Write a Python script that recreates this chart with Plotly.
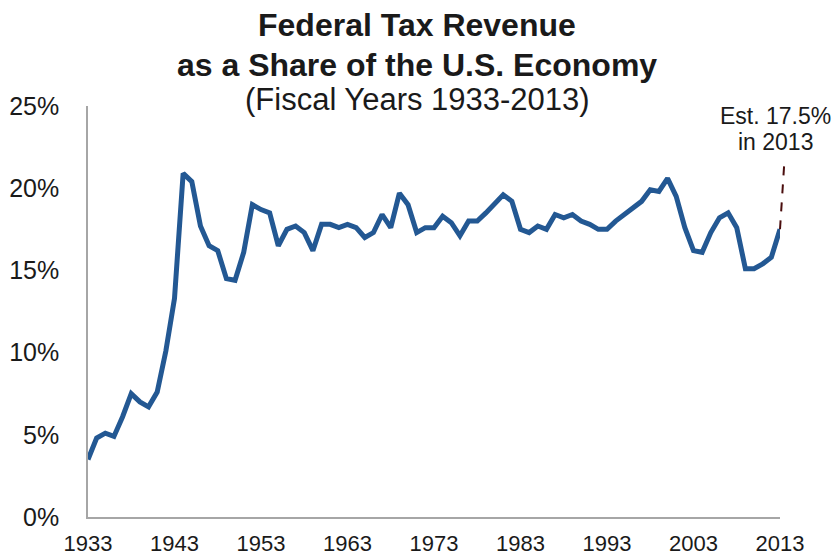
import plotly.graph_objects as go

years = list(range(1933, 2014))
revenue_pct = [
    3.5, 4.8, 5.1, 4.9, 6.1, 7.5, 7.0, 6.7, 7.6, 10.1,      # 1933-1942
    13.3, 20.9, 20.4, 17.7, 16.5, 16.2, 14.5, 14.4, 16.1, 19.0,  # 1943-1952
    18.7, 18.5, 16.5, 17.5, 17.7, 17.3, 16.2, 17.8, 17.8, 17.6,  # 1953-1962
    17.8, 17.6, 17.0, 17.3, 18.4, 17.6, 19.7, 19.0, 17.3, 17.6,  # 1963-1972
    17.6, 18.3, 17.9, 17.1, 18.0, 18.0, 18.5, 19.0, 19.6, 19.2,  # 1973-1982
    17.5, 17.3, 17.7, 17.5, 18.4, 18.2, 18.4, 18.0, 17.8, 17.5,  # 1983-1992
    17.5, 18.0, 18.4, 18.8, 19.2, 19.9, 19.8, 20.6, 19.5, 17.6,  # 1993-2002
    16.2, 16.1, 17.3, 18.2, 18.5, 17.6, 15.1, 15.1, 15.4, 15.8,  # 2003-2012
    17.5,                                                        # 2013
]
x_tick_years = [1933, 1943, 1953, 1963, 1973, 1983, 1993, 2003, 2013]
y_tick_vals = [0, 5, 10, 15, 20, 25]
y_tick_text = ["0%", "5%", "10%", "15%", "20%", "25%"]
est_year = 2013
est_value = 17.5

FONT = "Arial, Liberation Sans, sans-serif"
TXT = "#1a1a1a"
AXIS = "#a6a6a6"

fig = go.Figure()
fig.add_trace(go.Scatter(
    x=years, y=revenue_pct, mode="lines",
    line=dict(color="#235893", width=5, shape="linear"),
    hoverinfo="x+y", showlegend=False,
))

# dashed leader line from the last (estimated) point up to its label;
# x in paper units so it is not clipped at the right edge (paper x=1 is est_year)
fig.add_shape(type="line", xref="paper", yref="y",
              x0=1.0, y0=est_value, x1=1.006, y1=est_value + 3.9,
              line=dict(color="#4a0d0d", width=2, dash="dash"))

fig.update_layout(
    width=838, height=557,
    margin=dict(l=88, r=58, t=106, b=40, autoexpand=False),
    paper_bgcolor="white", plot_bgcolor="white",
    font=dict(family=FONT, color=TXT),
    xaxis=dict(range=[1933, est_year], tickvals=x_tick_years, ticktext=[str(v) for v in x_tick_years],
               showgrid=False, zeroline=False, showline=True, linecolor=AXIS, linewidth=1.5,
               ticks="", tickfont=dict(size=22, color=TXT), ticklabelstandoff=6, automargin=False),
    yaxis=dict(range=[0, 25], tickvals=y_tick_vals, ticktext=y_tick_text,
               showgrid=False, zeroline=False, showline=True, linecolor=AXIS, linewidth=1.5,
               ticks="", tickfont=dict(size=25, color=TXT), ticklabelstandoff=22, automargin=False),
    annotations=[
        dict(text="<b>Federal Tax Revenue</b>", xref="paper", yref="paper", x=0.476, y=1.197,
             xanchor="center", yanchor="middle", showarrow=False, font=dict(size=32, color=TXT)),
        dict(text="<b>as a Share of the U.S. Economy</b>", xref="paper", yref="paper", x=0.476, y=1.1,
             xanchor="center", yanchor="middle", showarrow=False, font=dict(size=32, color=TXT)),
        dict(text="(Fiscal Years 1933-2013)", xref="paper", yref="paper", x=0.476, y=1.015,
             xanchor="center", yanchor="middle", showarrow=False, font=dict(size=31, color=TXT)),
        dict(text="Est. 17.5%", xref="paper", yref="paper", x=0.994, y=0.976,
             xanchor="center", yanchor="middle", showarrow=False, font=dict(size=23, color=TXT)),
        dict(text="in 2013", xref="paper", yref="paper", x=0.994, y=0.913,
             xanchor="center", yanchor="middle", showarrow=False, font=dict(size=23, color=TXT)),
    ],
)

fig.write_html("out.html")
